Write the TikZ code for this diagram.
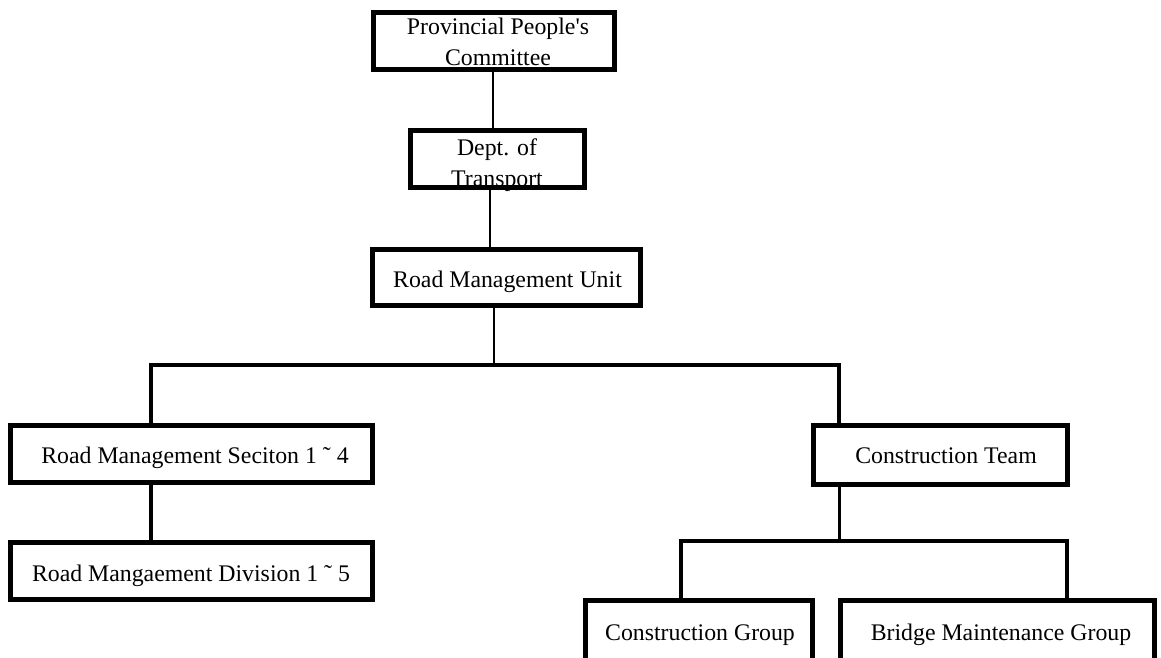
\documentclass[tikz,border=0pt]{standalone}
\usepackage{fontspec}
\setmainfont{Liberation Serif}[Ligatures=TeXOff]
\begin{document}
\begin{tikzpicture}[x=1pt,y=-1pt,
  box/.style={draw, rectangle, line width=5pt, inner sep=0pt},
  lbl/.style={anchor=base, inner sep=0pt, font=\fontsize{23.8}{31.5}\selectfont},
  thin/.style={line width=2pt},
  bus/.style={line width=3.5pt, line join=miter}]
\useasboundingbox (0,0) rectangle (1161,658);
\clip (0,0) rectangle (1161,658);
% boxes
\node[box, minimum width=241pt, minimum height=57pt] (b1) at (494,41) {};
\node[box, minimum width=174pt, minimum height=57pt] (b2) at (497.5,159) {};
\node[box, minimum width=268pt, minimum height=56pt] (b3) at (506.5,277.5) {};
\node[box, minimum width=362pt, minimum height=57pt] (b4) at (191.5,454) {};
\node[box, minimum width=362pt, minimum height=57pt] (b5) at (191.5,571) {};
\node[box, minimum width=254pt, minimum height=59pt] (b6) at (940.5,455) {};
\node[box, minimum width=227pt, minimum height=77pt] (b7) at (699,639) {};
\node[box, minimum width=314pt, minimum height=77pt] (b8) at (997.5,639) {};
% labels
\node[lbl] (t1a) at (498,35) {Provincial People's};
\node[lbl] (t1b) at (498,66) {Committee};
\node[lbl] (t2a) at (497,155) {Dept. of};
\node[lbl] (t2b) at (497,186) {Transport};
\node[lbl] (t3) at (507.5,287) {Road Management Unit};
\node[lbl] (t4) at (195,463) {Road Management Seciton 1 ˜ 4};
\node[lbl] (t5) at (191,581) {Road Mangaement Division 1 ˜ 5};
\node[lbl] (t6) at (946,463) {Construction Team};
\node[lbl] (t7) at (700,640) {Construction Group};
\node[lbl] (t8) at (1001,640) {Bridge Maintenance Group};
% connectors
\coordinate (busM) at (494,365);
\coordinate (bus2M) at (839,541);
\draw[thin] ([xshift=-1pt]b1.south) -- ([xshift=-1pt]b1.south |- b2.north);
\draw[thin] ([xshift=-7.5pt]b2.south) -- ([xshift=-7.5pt]b2.south |- b3.north);
\draw[line width=2.5pt] ([xshift=-12.5pt]b3.south) -- (busM);
\draw[bus] ([xshift=-40.5pt]b4.north) |- (busM) -| ([xshift=-101.5pt]b6.north);
\draw[line width=4pt] ([xshift=-40.5pt]b4.south) -- ([xshift=-40.5pt]b5.north);
\draw[line width=3pt] ([xshift=-101.5pt]b6.south) -- (bus2M);
\draw[bus] ([xshift=-18pt]b7.north) |- (bus2M) -| ([xshift=69.5pt]b8.north);
\end{tikzpicture}
\end{document}
